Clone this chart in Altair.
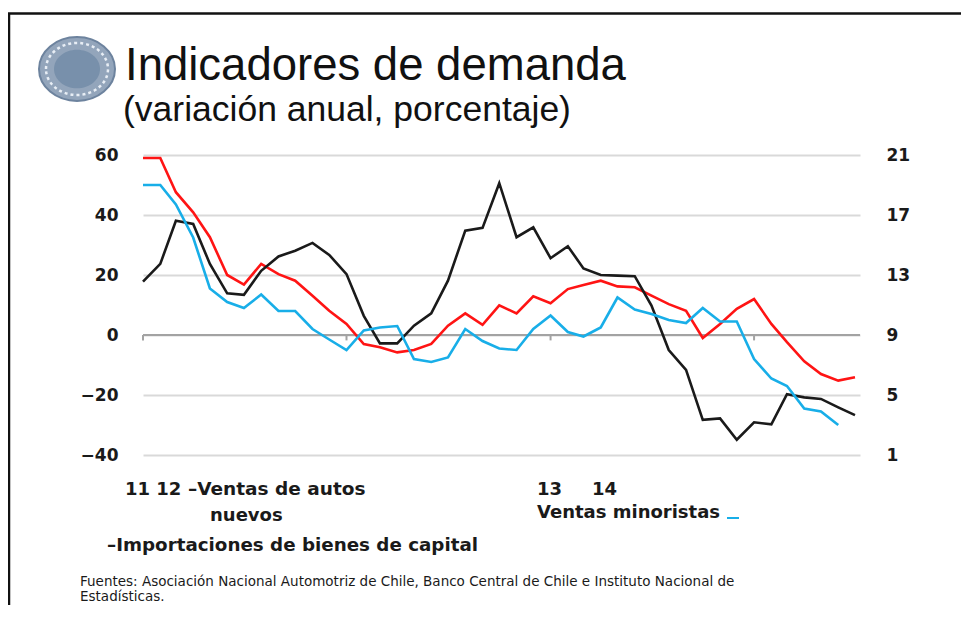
import altair as alt
import pandas as pd

# ---------------- data ----------------
meses = pd.date_range("2011-01-01", "2014-07-01", freq="MS").strftime("%Y-%m-%d").tolist()

autos = [59, 59, 47.6, 40.9, 32.6, 20, 16.8, 23.7, 20.3, 18.1, 13.1, 8.1, 3.7,
         -3, -4.1, -5.8, -5, -3, 3.1, 7.2, 3.4, 9.9, 7.2, 12.9, 10.6, 15.3, 16.7,
         18.1, 16.2, 15.9, 13.1, 10.3, 8.1, -1, 3.7, 8.7, 12, 3.7, -2.4, -8.8,
         -13, -15.2, -14.1]

importaciones = [17.8, 23.7, 38.1, 37, 23.7, 13.9, 13.4, 21.4, 26.2, 28.1, 30.7,
                 26.7, 20.3, 6.4, -2.8, -2.8, 3.1, 7.2, 18.1, 34.8, 35.7, 50.6,
                 32.6, 35.9, 25.6, 29.6, 22.2, 20, 19.8, 19.6, 9.8, -5, -11.6,
                 -28.3, -27.8, -34.9, -29.1, -29.8, -19.7, -20.8, -21.3, -24.1, -26.7]

minoristas = [19.0, 19.0, 17.7, 15.5, 12.1, 11.2, 10.8, 11.7, 10.6, 10.6, 9.4,
              8.7, 8.0, 9.3, 9.5, 9.6, 7.4, 7.2, 7.5, 9.4, 8.6, 8.1, 8.0, 9.4,
              10.3, 9.2, 8.9, 9.5, 11.5, 10.7, 10.4, 10.0, 9.8, 10.8, 9.9, 9.9,
              7.4, 6.1, 5.6, 4.1, 3.9, 3.0]

series = ["Ventas de autos nuevos", "Importaciones de bienes de capital"]
colores = ["#ff1414", "#1a1a1a"]
color_minoristas = "#18aee8"

ticks_izq = [-40, -20, 0, 20, 40, 60]
ticks_der = [1, 5, 9, 13, 17, 21]
inicio_anios = ["2011-01-01", "2012-01-01", "2013-01-01", "2014-01-01"]

titulo = "Indicadores de demanda"
subtitulo = "(variación anual, porcentaje)"
etiquetas_anios = ["11 12", "13", "14"]
leyenda = ["–Ventas de autos", "nuevos", "–Importaciones de bienes de capital", "Ventas minoristas"]
fuente = ["Fuentes: Asociación Nacional Automotriz de Chile, Banco Central de Chile e Instituto Nacional de",
          "Estadísticas."]

# ---------------- tables ----------------
n = len(meses)
df_izq = pd.DataFrame({
    "fecha": meses * 2,
    "valor": autos + importaciones,
    "serie": [series[0]] * n + [series[1]] * n,
    "orden": list(range(n)) * 2,
})
df_der = pd.DataFrame({"fecha": meses[:len(minoristas)], "valor": minoristas})
df_cero = pd.DataFrame({"valor": [0]})
df_ticks = pd.DataFrame({"fecha": inicio_anios, "valor": [0] * 4, "fin": [-1.8] * 4})
one = pd.DataFrame({"a": [0]})

W, H = 717, 300
xscale = alt.Scale(domain=[alt.DateTime(year=2011, month=1, date=1),
                           alt.DateTime(year=2014, month=7, date=10)])
yscale_izq = alt.Scale(domain=[-40, 60], nice=False, zero=False)
yscale_der = alt.Scale(domain=[1, 21], nice=False, zero=False)

AX_FONT = "DejaVu Sans"

eje_izq = alt.Axis(values=ticks_izq, format="d", title=None, grid=True,
                   gridColor="#d9d9d9", gridWidth=2, domain=False, ticks=False,
                   labelPadding=25, labelFont=AX_FONT, labelFontSize=17,
                   labelFontWeight="bold", labelColor="#1a1a1a")

# ---------------- left-axis layers ----------------
cero = alt.Chart(df_cero).mark_rule(color="#a3a3a3", strokeWidth=2).encode(
    y=alt.Y("valor:Q", scale=yscale_izq, axis=eje_izq)
)
ticks = alt.Chart(df_ticks).mark_rule(color="#a3a3a3", strokeWidth=2).encode(
    x=alt.X("fecha:T", scale=xscale, axis=None),
    y=alt.Y("valor:Q", scale=yscale_izq, axis=eje_izq),
    y2="fin:Q",
)
lineas = alt.Chart(df_izq).mark_line(strokeWidth=2.6).encode(
    x=alt.X("fecha:T", scale=xscale, axis=None),
    y=alt.Y("valor:Q", scale=yscale_izq, axis=eje_izq),
    color=alt.Color("serie:N", scale=alt.Scale(domain=series, range=colores), legend=None),
    order="orden:Q",
)
izq = alt.layer(cero, ticks, lineas)

der = alt.Chart(df_der).mark_line(strokeWidth=2.6, color=color_minoristas).encode(
    x=alt.X("fecha:T", scale=xscale, axis=None),
    y=alt.Y("valor:Q", scale=yscale_der,
            axis=alt.Axis(orient="right", values=ticks_der, format="d", title=None,
                          grid=False, domain=False, ticks=False, labelPadding=26,
                          labelFont=AX_FONT, labelFontSize=17, labelFontWeight="bold",
                          labelColor="#1a1a1a")),
)

grafico = alt.layer(izq, der).resolve_scale(y="independent")

# ---------------- decoration / text ----------------
def texto(s, x, y, size, weight="normal", font="Liberation Sans", color="#1a1a1a"):
    return alt.Chart(one).mark_text(
        align="left", baseline="alphabetic", font=font, fontSize=size,
        fontWeight=weight, color=color
    ).encode(x=alt.value(x), y=alt.value(y), text=alt.value(s))

marco_sup = alt.Chart(one).mark_rule(color="#111111", strokeWidth=2.5).encode(
    x=alt.value(-135), x2=alt.value(830), y=alt.value(-141.5))
marco_izq = alt.Chart(one).mark_rule(color="#111111", strokeWidth=2.5).encode(
    x=alt.value(-134), y=alt.value(-142), y2=alt.value(470))

elipse = "M-1,0 A1,0.84 0 1,1 1,0 A1,0.84 0 1,1 -1,0 Z"
logo1 = alt.Chart(one).mark_point(shape=elipse, filled=True, size=76 * 76,
                                  color="#93a5bb", opacity=1,
                                  stroke="#6d839e", strokeWidth=2).encode(
    x=alt.value(-66), y=alt.value(-86))
logo2 = alt.Chart(one).mark_point(shape=elipse, filled=False, size=62 * 62,
                                  color="#e8eef5", strokeWidth=2.5,
                                  strokeDash=[3, 3], opacity=1).encode(
    x=alt.value(-66), y=alt.value(-86))
logo3 = alt.Chart(one).mark_point(shape=elipse, filled=True, size=46 * 46,
                                  color="#7890ab", opacity=1).encode(
    x=alt.value(-66), y=alt.value(-86))

capas_texto = [
    texto(titulo, -18, -75, 45.5, font="Liberation Sans", color="#111111"),
    texto(subtitulo, -20, -34, 35.5, font="Liberation Sans", color="#111111"),
    texto(etiquetas_anios[0], -18, 340, 18, "bold", AX_FONT),
    texto(leyenda[0], 45, 340, 18.5, "bold", AX_FONT),
    texto(leyenda[1], 67, 366, 18, "bold", AX_FONT),
    texto(leyenda[2], -36, 396, 18.3, "bold", AX_FONT),
    texto(etiquetas_anios[1], 394, 340, 18, "bold", AX_FONT),
    texto(etiquetas_anios[2], 449, 340, 18, "bold", AX_FONT),
    texto(leyenda[3], 394, 363, 18, "bold", AX_FONT),
    texto(fuente[0], -63, 431, 13.5, "normal", AX_FONT),
    texto(fuente[1], -63, 446, 13.5, "normal", AX_FONT),
]
marca_azul = alt.Chart(one).mark_rule(color=color_minoristas, strokeWidth=2).encode(
    x=alt.value(584), x2=alt.value(596), y=alt.value(363))

chart = alt.layer(
    marco_sup, marco_izq, logo1, logo2, logo3, *capas_texto, marca_azul, grafico
).properties(
    width=W, height=H,
    autosize=alt.AutoSizeParams(type="none"),
    padding={"left": 135, "top": 147, "right": 101, "bottom": 150},
    background="white",
).configure_view(stroke=None)

chart.save("out.html", embed_options={"renderer": "svg", "actions": False})
